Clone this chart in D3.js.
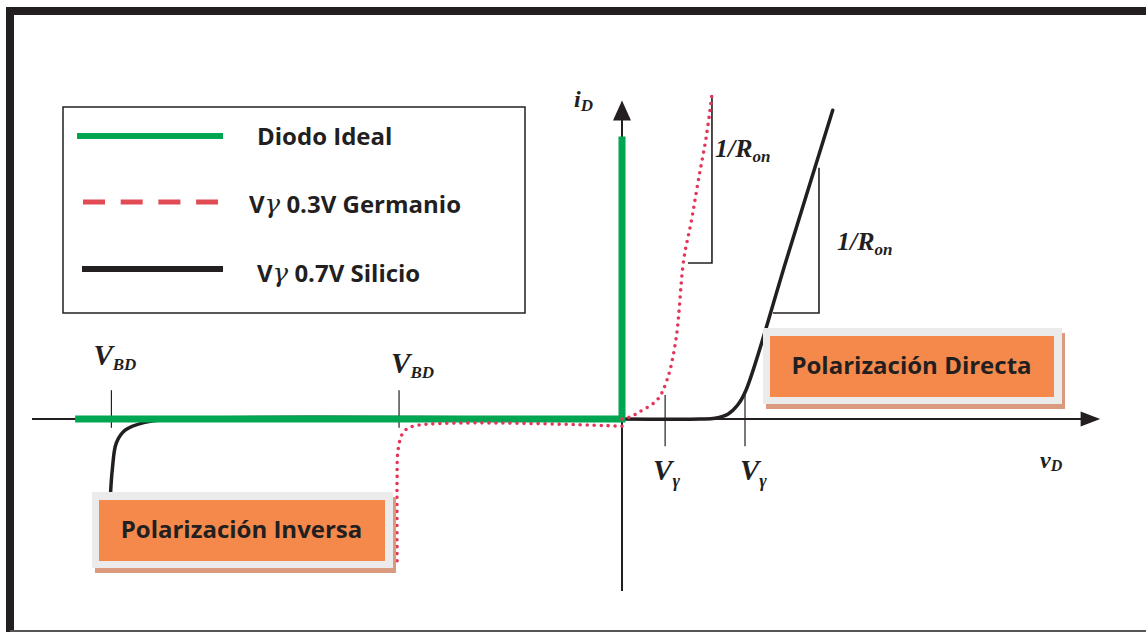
<!DOCTYPE html>
<html>
<head>
<meta charset="utf-8">
<script src="https://cdn.jsdelivr.net/npm/d3@7"></script>
<style>
  body { margin: 0; background: #fff; }
  svg { display: block; }
</style>
</head>
<body>
<div id="chart"></div>
<script>
// curva característica del diodo (unidades arbitrarias, esquema)
const idealDiode = [[-55.8, 0], [0, 0], [0, 35.3]];
const germanioFwd = [[0, 0], [0.8, 0.25], [1.8, 0.9], [3.6, 2.4], [4.6, 4.9], [5.5, 9.9], [6.3, 19.9], [7.1, 24.9], [7.8, 29.9], [8.6, 35.3], [9.2, 40.8]];
const germanioRev = [[0, -0.9], [-21.3, -0.9], [-22.35, -1.75], [-22.85, -3.9], [-22.95, -7.6], [-22.95, -18.2]];
const silicioFwd = [[0, 0], [8, 0], [9.5, 0.1], [10.8, 0.6], [11.8, 1.75], [12.65, 3.6], [16.8, 20], [21.5, 38.6]];
const silicioRev = [[0, 0], [-46, 0], [-48.8, -0.45], [-50.7, -1.4], [-51.6, -3.0], [-52.0, -6.2], [-52.2, -9.5]];

const vbdTicks = [-52.1, -22.75];
const vgammaTicks = [4.4, 12.55];
// pendiente 1/Ron: [x vertical, i arriba, i abajo, x izquierda]
const ronGe = [9.18, 40.5, 19.5, 6.73];
const ronSi = [20.1, 31.4, 13.25, 15.4];

const legendLabels = ["Diodo Ideal", "0.3V Germanio", "0.7V Silicio"];
const boxLabels = ["Polarización Inversa", "Polarización Directa"];

const W = 1146, H = 632;
const ink = "#231f20", green = "#00a651", red = "#e2365a", orange = "#f4894b";

let svg = d3.select("#chart").append("svg").attr("width", W).attr("height", H);
svg.append("rect").attr("width", W).attr("height", H).attr("fill", "#fff");

let x = d3.scaleLinear().domain([-60, 50]).range([34, 1112]);
let y = d3.scaleLinear().domain([-21.5, 39.5]).range([591, 103]);

let line = d3.line().x(d => x(d[0])).y(d => y(d[1])).curve(d3.curveCatmullRom.alpha(0.5));
let straight = d3.line().x(d => x(d[0])).y(d => y(d[1]));

// marco
svg.append("line").attr("x1", 10).attr("x2", W).attr("y1", 11).attr("y2", 11)
  .attr("stroke", ink).attr("stroke-width", 8);
svg.append("line").attr("x1", 10).attr("x2", 10).attr("y1", 7).attr("y2", H)
  .attr("stroke", ink).attr("stroke-width", 8);
svg.append("line").attr("x1", 10).attr("x2", W).attr("y1", 631).attr("y2", 631)
  .attr("stroke", "#555").attr("stroke-width", 2);

// ejes
svg.append("line").attr("x1", 32).attr("x2", x(47)).attr("y1", y(0)).attr("y2", y(0))
  .attr("stroke", ink).attr("stroke-width", 2);
svg.append("path")
  .attr("d", `M${x(48.8)},${y(0)} L${x(46.8)},${y(0) - 7.5} L${x(46.8)},${y(0) + 7.5} Z`)
  .attr("fill", ink);
svg.append("line").attr("x1", x(0)).attr("x2", x(0)).attr("y1", y(-21.5)).attr("y2", y(37.5))
  .attr("stroke", ink).attr("stroke-width", 2);
svg.append("path")
  .attr("d", `M${x(0)},${y(39.8)} L${x(0) - 9},${y(37.3)} L${x(0) + 9},${y(37.3)} Z`)
  .attr("fill", ink);

// marcas V_BD y V_gamma
vbdTicks.forEach(v => {
  svg.append("line").attr("x1", x(v)).attr("x2", x(v)).attr("y1", y(3.6)).attr("y2", y(-1.1))
    .attr("stroke", ink).attr("stroke-width", 1.2);
});
vgammaTicks.forEach(v => {
  svg.append("line").attr("x1", x(v)).attr("x2", x(v)).attr("y1", y(3)).attr("y2", y(-3.4))
    .attr("stroke", ink).attr("stroke-width", 1.2);
});

// triángulos 1/Ron
[ronGe, ronSi].forEach(t => {
  svg.append("path")
    .attr("d", straight([[t[0], t[1]], [t[0], t[2]], [t[3], t[2]]]))
    .attr("fill", "none").attr("stroke", ink).attr("stroke-width", 1.6);
});

// curvas
[silicioFwd, silicioRev].forEach(s => {
  svg.append("path").attr("d", line(s)).attr("fill", "none")
    .attr("stroke", ink).attr("stroke-width", 3.5).attr("stroke-linecap", "round");
});
svg.append("path").attr("d", straight(idealDiode)).attr("fill", "none")
  .attr("stroke", green).attr("stroke-width", 7);
[germanioFwd, germanioRev].forEach(s => {
  svg.append("path").attr("d", line(s)).attr("fill", "none")
    .attr("stroke", red).attr("stroke-width", 3.6)
    .attr("stroke-linecap", "round").attr("stroke-dasharray", "0 7");
});

// etiquetas matemáticas
function mathLabel(px, py, main, sub, size, subSize, dy) {
  let t = svg.append("text").attr("x", px).attr("y", py)
    .attr("font-family", "'Liberation Serif', 'DejaVu Serif', serif")
    .attr("font-style", "italic").attr("font-weight", "bold")
    .attr("font-size", size).attr("fill", ink);
  t.append("tspan").text(main);
  t.append("tspan").attr("font-size", subSize).attr("dy", dy).text(sub);
  return t;
}
mathLabel(x(vbdTicks[0]) - 18, 365, "V", "BD", 29, 17, 5);
mathLabel(x(vbdTicks[1]) - 8, 373, "V", "BD", 29, 17, 5);
mathLabel(x(vgammaTicks[0]) - 12, 480, "V", "γ", 29, 18, 7);
mathLabel(x(vgammaTicks[1]) - 5, 480, "V", "γ", 29, 18, 7);
mathLabel(x(0) - 48, 107, "i", "D", 24, 17, 4);
mathLabel(1040, 468, "v", "D", 24, 16, 3);
mathLabel(x(ronGe[0]) + 3, 157, "1/R", "on", 26, 17, 5);
mathLabel(x(ronSi[0]) + 18, 250, "1/R", "on", 26, 17, 5);

// leyenda
let leg = svg.append("g");
leg.append("rect").attr("x", 63).attr("y", 107).attr("width", 462).attr("height", 206)
  .attr("fill", "#fff").attr("stroke", ink).attr("stroke-width", 1.5);
leg.append("line").attr("x1", 77).attr("x2", 223).attr("y1", 136).attr("y2", 136)
  .attr("stroke", green).attr("stroke-width", 6);
leg.append("line").attr("x1", 83).attr("x2", 218).attr("y1", 202).attr("y2", 202)
  .attr("stroke", "#e04b54").attr("stroke-width", 5).attr("stroke-dasharray", "22 15.7");
leg.append("line").attr("x1", 82).attr("x2", 223).attr("y1", 269).attr("y2", 269)
  .attr("stroke", ink).attr("stroke-width", 6);

let legFont = "'Open Sans', Lato, sans-serif";
let ly = [145, 213, 282], lx = [257, 249, 257];
legendLabels.forEach((lab, i) => {
  let t = leg.append("text").attr("x", lx[i]).attr("y", ly[i])
    .attr("font-family", legFont).attr("font-weight", "bold").attr("font-size", 24)
    .attr("fill", ink);
  if (i > 0) {
    t.append("tspan").text("V");
    t.append("tspan").attr("font-family", "'DejaVu Serif', serif").attr("font-style", "italic")
      .attr("font-weight", "normal").attr("font-size", 26).text("γ");
    t.append("tspan").text(" " + lab);
  } else {
    t.text(lab);
  }
});

// cajas naranjas
function labelBox(bx, by, bw, bh, text) {
  let g = svg.append("g");
  g.append("rect").attr("x", bx + 3).attr("y", by + 5).attr("width", bw).attr("height", bh)
    .attr("fill", "#d99a7e");
  g.append("rect").attr("x", bx).attr("y", by).attr("width", bw).attr("height", bh)
    .attr("fill", "#ebebeb");
  g.append("rect").attr("x", bx + 7).attr("y", by + 8).attr("width", bw - 15).attr("height", bh - 15)
    .attr("fill", orange);
  g.append("text").attr("x", bx + bw / 2 - 1).attr("y", by + bh / 2 + 8)
    .attr("text-anchor", "middle")
    .attr("font-family", legFont).attr("font-weight", "bold").attr("font-size", 24)
    .attr("fill", ink).text(text);
}
labelBox(92, 492, 301, 76, boxLabels[0]);
labelBox(763, 328, 299, 76, boxLabels[1]);
</script>
</body>
</html>
